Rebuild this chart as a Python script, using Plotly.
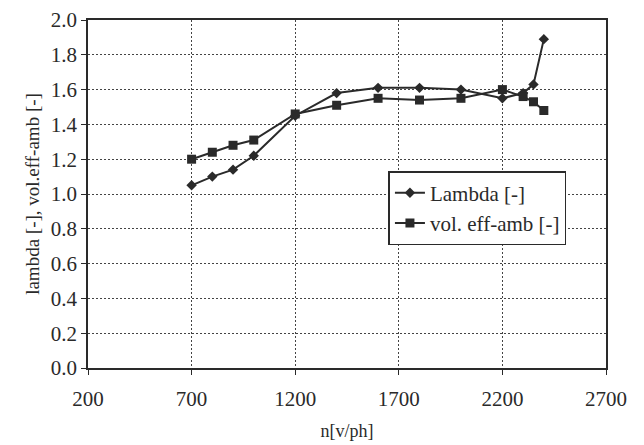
import plotly.graph_objects as go

# values
n_vph = [700, 800, 900, 1000, 1200, 1400, 1600, 1800, 2000, 2200, 2300, 2350, 2400]
lambda_vals = [1.05, 1.10, 1.14, 1.22, 1.45, 1.58, 1.61, 1.61, 1.60, 1.55, 1.58, 1.63, 1.89]
vol_eff_amb = [1.20, 1.24, 1.28, 1.31, 1.46, 1.51, 1.55, 1.54, 1.55, 1.60, 1.56, 1.53, 1.48]

x_ticks = [200, 700, 1200, 1700, 2200, 2700]
y_ticks = [0.0, 0.2, 0.4, 0.6, 0.8, 1.0, 1.2, 1.4, 1.6, 1.8, 2.0]

ink = "#2a2a2a"
font_family = "Liberation Serif, Times New Roman, serif"

fig = go.Figure()
fig.add_trace(go.Scatter(
    x=n_vph, y=lambda_vals, name="Lambda [-]", mode="lines+markers",
    line=dict(color=ink, width=2),
    marker=dict(symbol="diamond", size=8, color=ink),
))
fig.add_trace(go.Scatter(
    x=n_vph, y=vol_eff_amb, name="vol. eff-amb [-]", mode="lines+markers",
    line=dict(color=ink, width=2),
    marker=dict(symbol="square", size=9, color=ink),
))

grid_style = dict(showgrid=True, gridcolor="#444444", griddash="2px,2px", gridwidth=1,
                  showline=True, linecolor=ink, linewidth=1.5, mirror=True,
                  ticks="outside", ticklen=5, tickcolor=ink, zeroline=False,
                  automargin=False)

fig.update_xaxes(range=[200, 2700], tickvals=x_ticks, ticktext=[str(v) for v in x_ticks],
                 tickfont=dict(size=21), ticklabelstandoff=6,
                 title=dict(text="n[v/ph]", font=dict(size=18), standoff=14), **grid_style)
fig.update_yaxes(range=[0, 2.0], tickvals=y_ticks, ticktext=[f"{v:.1f}" for v in y_ticks],
                 tickfont=dict(size=21),
                 title=dict(text="lambda [-], vol.eff-amb [-]", font=dict(size=19), standoff=6),
                 **grid_style)

# page body has an 8px margin, so the figure is sized to fit inside the window
fig.update_layout(
    width=636, height=437,
    margin=dict(l=80, r=38, t=12, b=77),
    paper_bgcolor="white", plot_bgcolor="white",
    font=dict(family=font_family, size=18, color=ink),
    legend=dict(x=0.58, y=0.566, xanchor="left", yanchor="top",
                bgcolor="white", bordercolor=ink, borderwidth=1.5,
                font=dict(size=21), itemwidth=30, tracegroupgap=6),
    showlegend=True,
)

fig.write_html("out.html")
